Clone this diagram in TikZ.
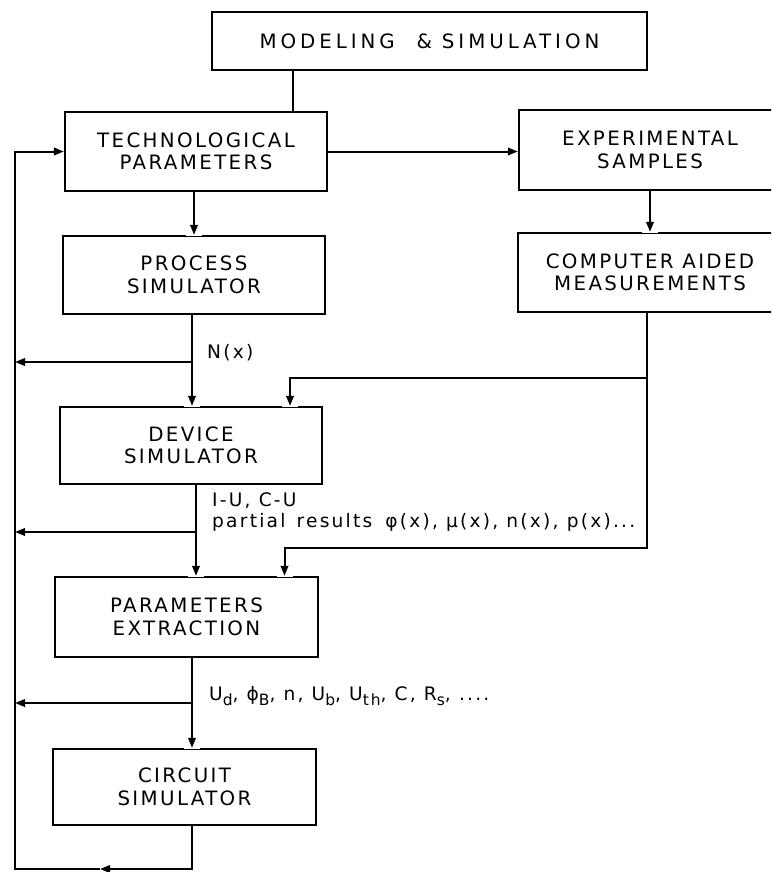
\documentclass[tikz,border=0pt]{standalone}
\usepackage{fontspec}
\setmainfont{DejaVu Sans}[LetterSpace=12]
\newfontfamily\widefont{DejaVu Sans}[LetterSpace=20]
\usetikzlibrary{arrows.meta}
\newcommand\lsub[1]{\raisebox{-0.45ex}{\fontsize{15.5}{15.5}\selectfont #1}}
\newcommand\gapat[1]{\draw[white, line width=3.2pt] ([xshift=-8pt]#1) -- ([xshift=8pt]#1);}
\begin{document}
\begin{tikzpicture}[x=1pt,y=-1pt,
  box/.style={draw, line width=2.3pt, inner sep=0pt, align=center,
    font=\fontsize{19.8}{22.5}\selectfont},
  conn/.style={line width=2pt},
  arr/.style={conn, -{Triangle[length=10pt,width=7.5pt]}},
  lbl/.style={anchor=west, inner sep=0pt, align=left,
    font=\fontsize{18.6}{20.5}\selectfont}]
\useasboundingbox (0,0) rectangle (771,872);
\clip (0,0) rectangle (771,872);

% boxes
\node[box, minimum width=435pt, minimum height=58pt, font=\widefont\fontsize{19.8}{22}\selectfont] (top) at (429.5,41)
  {MODELING\hspace{1.1em}\&\hspace{0.5em}SIMULATION};
\node[box, minimum width=262pt, minimum height=79pt] (TP) at (196,151.5)
  {TECHNOLOGICAL\\PARAMETERS};
\node[box, minimum width=262pt, minimum height=80pt] (ES) at (650,150)
  {EXPERIMENTAL\\SAMPLES};
\node[box, minimum width=264pt, minimum height=79pt] (CAM) at (650,272.5)
  {COMPUTER AIDED\\MEASUREMENTS};
\node[box, minimum width=262pt, minimum height=78pt] (PS) at (194,275)
  {PROCESS\\SIMULATOR};
\node[box, minimum width=262pt, minimum height=77pt] (DS) at (191,445.5)
  {DEVICE\\SIMULATOR};
\node[box, minimum width=263pt, minimum height=80pt] (PE) at (186.5,617)
  {PARAMETERS\\EXTRACTION};
\node[box, minimum width=263pt, minimum height=76pt] (CS) at (184.5,787)
  {CIRCUIT\\SIMULATOR};

% labels
\node[lbl] (lnx) at (207,353) {N(x)};
\node[lbl] (liu) at (212,512) {I-U, C-U\\partial\hspace{0.6em}results\hspace{0.7em}φ(x), μ(x), n(x), p(x)...};
\node[lbl] (lud) at (209,696) {U\lsub{d}, ϕ\lsub{B}, n, U\lsub{b}, U\lsub{th}, C, R\lsub{s}, ....};

% feedback bus
\coordinate (bus) at (15,0);
\coordinate (busBot) at (15,869);
\coordinate (mid) at (100,869);

% arrow entry points
\coordinate (a2) at ([xshift=-2]PS.south);
\coordinate (a3) at ([xshift=5]DS.south);
\coordinate (a4) at ([xshift=5.5]PE.south);
\coordinate (a5) at ([xshift=7.5]CS.south);
\coordinate (tPS) at (PS.north);
\coordinate (tDS) at (a2 |- DS.north);
\coordinate (tDSm) at ([xshift=99]DS.north);
\coordinate (tPE) at (a3 |- PE.north);
\coordinate (tPEm) at ([xshift=98]PE.north);
\coordinate (tCS) at (a4 |- CS.north);
\coordinate (tCAM) at (CAM.north);

% gaps in box borders around the arrow tips
\gapat{tPS}
\gapat{tDS}
\gapat{tDSm}
\gapat{tPE}
\gapat{tPEm}
\gapat{tCS}
\gapat{tCAM}

% connectors
\draw[conn] ([xshift=97]TP.north) -- ([xshift=97]TP.north |- top.south);
\draw[arr] (TP.east) -- (TP.east -| ES.west);
\draw[arr] (ES.south) -- (tCAM);
\draw[arr] (PS.north |- TP.south) -- (tPS);

\draw[arr] (a2) -- (tDS);
\draw[arr] (a2 |- 0,362) -- (bus |- 0,362);

\draw[arr] (a3) -- (tPE);
\draw[arr] (a3 |- 0,532) -- (bus |- 0,532);

\draw[arr] (a4) -- (tCS);
\draw[arr] (a4 |- 0,703) -- (bus |- 0,703);

\draw[arr] ([xshift=-3]CAM.south) -- ++(0,65) -| (tDSm);
\draw[arr] ([xshift=-3]CAM.south) -- ++(0,235) -| (tPEm);

\draw[arr] (a5) |- (mid);
\draw[arr] (mid) -- (busBot) -- (bus |- TP.west) -- (TP.west);
\end{tikzpicture}
\end{document}
